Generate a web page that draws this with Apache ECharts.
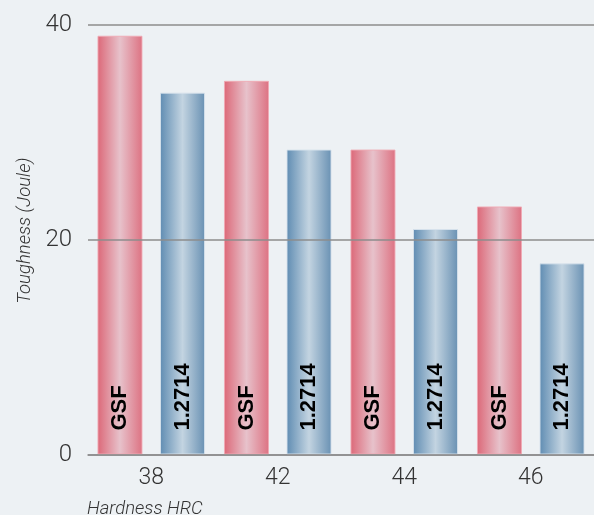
<!DOCTYPE html>
<html>
<head>
<meta charset="utf-8">
<script src="https://cdn.jsdelivr.net/npm/echarts@6/dist/echarts.min.js"></script>
<style>
  html, body { margin: 0; padding: 0; background: #edf1f4; }
  #chart { width: 594px; height: 515px; }
</style>
</head>
<body>
<div id="chart"></div>
<script>
const categories = ['38', '42', '44', '46'];
const seriesNames = ['GSF', '1.2714'];
const gsfValues = [39.0, 34.8, 28.4, 23.1];
const steelValues = [33.7, 28.4, 21.0, 17.8];
const yTicks = [0, 20, 40];

const chart = echarts.init(document.getElementById('chart'));

function grad(edgeL, mid, edgeR) {
  return {
    type: 'linear', x: 0, y: 0, x2: 1, y2: 0,
    colorStops: [
      { offset: 0, color: edgeL },
      { offset: 0.5, color: mid },
      { offset: 1, color: edgeR }
    ]
  };
}

const barLabel = {
  show: true,
  formatter: '{a}',
  position: 'insideBottom',
  rotate: 90,
  align: 'left',
  verticalAlign: 'middle',
  distance: 24,
  color: '#000',
  fontFamily: '"Liberation Sans Narrow", "Liberation Sans", Arial, sans-serif',
  fontWeight: 'bold',
  fontSize: 22
};

chart.setOption({
  backgroundColor: '#edf1f4',
  animation: false,
  grid: { left: 88, right: 0, top: 25, bottom: 60.5, containLabel: false, outerBoundsMode: 'none' },
  xAxis: {
    type: 'category',
    data: categories,
    name: 'Hardness HRC',
    nameLocation: 'start',
    nameGap: 1,
    nameTextStyle: {
      align: 'left', verticalAlign: 'top', padding: [45, 0, 0, 0],
      fontFamily: 'Roboto', fontStyle: 'italic', fontWeight: 300, fontSize: 18.5, color: '#333'
    },
    axisLine: { show: true, lineStyle: { color: '#8c8c8c', width: 1.5 } },
    axisTick: { show: false },
    axisLabel: { fontFamily: 'Roboto', fontWeight: 300, fontSize: 23, color: '#333', margin: 12 }
  },
  yAxis: {
    type: 'value',
    min: yTicks[0],
    max: yTicks[yTicks.length - 1],
    interval: yTicks[1] - yTicks[0],
    z: 5,
    name: 'Toughness (Joule)',
    nameLocation: 'middle',
    nameGap: 52,
    nameTextStyle: {
      fontFamily: 'Roboto', fontStyle: 'italic', fontWeight: 300, fontSize: 18.5, color: '#333',
      padding: [0, 0, 0, 18]
    },
    axisLine: { show: false },
    axisTick: { show: false },
    axisLabel: { fontFamily: 'Roboto', fontWeight: 300, fontSize: 24, color: '#333', margin: 16 },
    splitLine: { show: true, lineStyle: { color: '#8c8c8c', width: 1.5 } }
  },
  series: [
    {
      name: seriesNames[0],
      type: 'bar',
      data: gsfValues,
      barWidth: 45,
      barGap: '39%',
      itemStyle: {
        color: grad('#dc6878', '#e7c2cb', '#dd7282'),
        borderColor: 'rgba(240,170,180,0.9)',
        borderWidth: 1
      },
      label: barLabel
    },
    {
      name: seriesNames[1],
      type: 'bar',
      data: steelValues,
      barWidth: 45,
      barGap: '39%',
      itemStyle: {
        color: grad('#5f8cb2', '#c3d4e1', '#6991b3'),
        borderColor: 'rgba(215,226,236,0.9)',
        borderWidth: 1
      },
      label: barLabel
    }
  ]
});
</script>
</body>
</html>
